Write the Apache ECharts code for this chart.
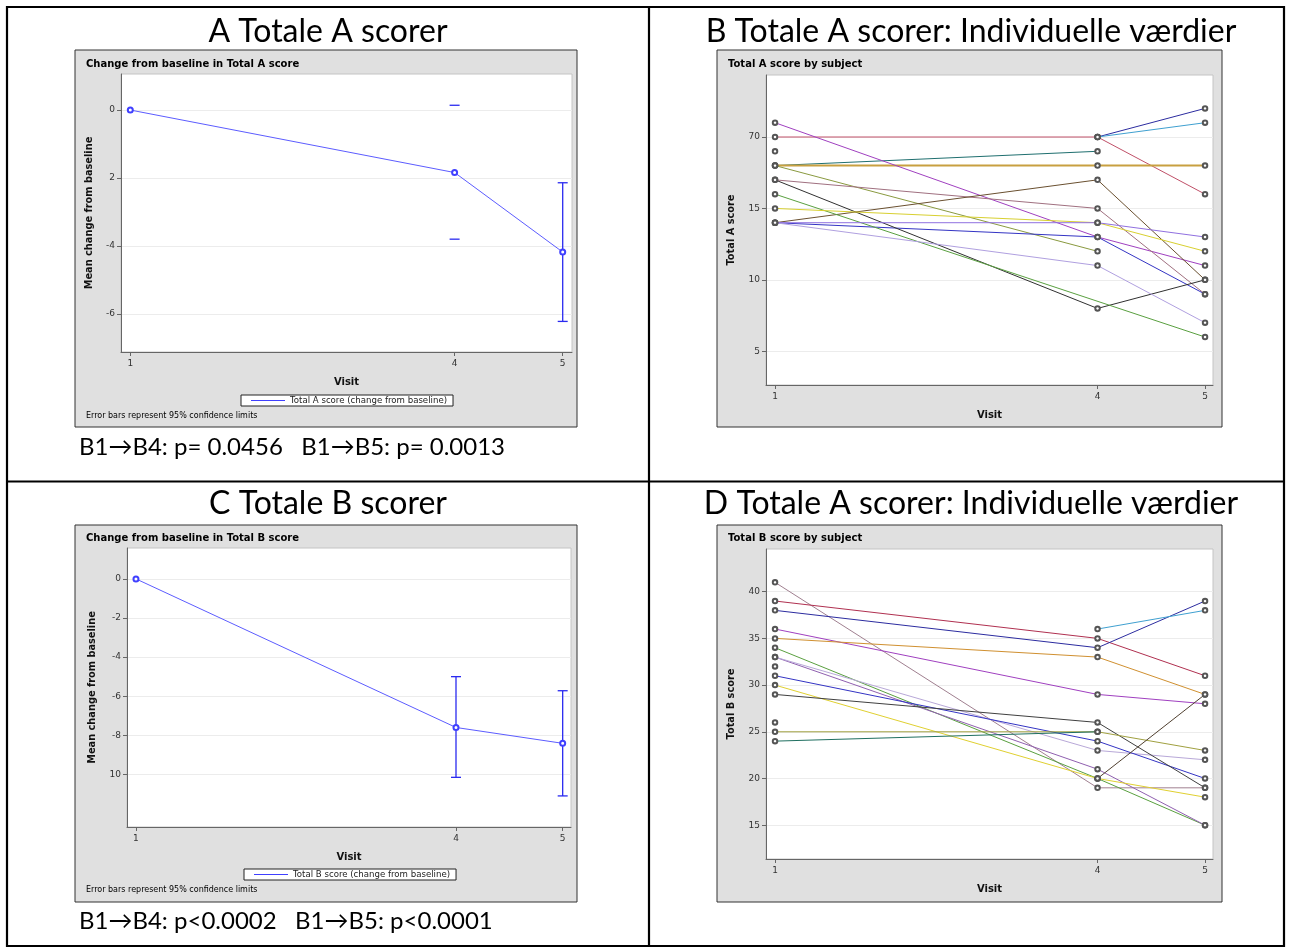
<!DOCTYPE html>
<html>
<head>
<meta charset="utf-8">
<script src="https://cdn.jsdelivr.net/npm/echarts@6/dist/echarts.min.js"></script>
<style>
  html, body { margin: 0; padding: 0; background: #fff; }
  #main { width: 1289px; height: 949px; }
</style>
</head>
<body>
<div id="main"></div>
<script>
// visits on the x axis (shared by all four plots)
const visits = [1, 4, 5]
const visitLabels = ['1', '4', '5']

// A: mean change from baseline, Total A score
const meanA = [0, -1.84, -4.18]
const upperA = [null, 0.14, -2.14]
const lowerA = [null, -3.8, -6.22]
const stemA = [false, false, true] // visit 4 only shows the caps
const yTicksA = [0, -2, -4, -6]
const yLabelsA = ['0', '2', '-4', '-6']

// C: mean change from baseline, Total B score
const meanC = [0, -7.6, -8.41]
const upperC = [null, -5.0, -5.72]
const lowerC = [null, -10.15, -11.1]
const stemC = [false, true, true]
const yTicksC = [0, -2, -4, -6, -8, -10]
const yLabelsC = ['0', '-2', '-4', '-6', '-8', '10']

// B: Total A score by subject (visit 1, 4, 5)
const subjectsB = [
  [20, 20, 16],
  [null, 20, 22],
  [null, 20, 21],
  [19, null, null],
  [18, 19, null],
  [18, 18, 18],
  [18, 12, null],
  [21, 13, 11],
  [14, 13, 9],
  [17, 15, 9],
  [17, 8, 10],
  [14, 17, 10],
  [16, null, 6],
  [15, 14, 12],
  [14, 14, 13],
  [14, 11, 7]
]
const colorsB = ['#c05068', '#2c2ca0', '#3fa0d0', '#999999', '#1f6f6f', '#c8a040', '#8a9a40', '#a040c0',
  '#3434c4', '#a07080', '#303030', '#6a5030', '#5aa040', '#d8d030', '#9070e0', '#b0a0e0']
const yTicksB = [5, 10, 15, 20]
const yLabelsB = ['5', '10', '15', '70']

// D: Total B score by subject (visit 1, 4, 5)
const subjectsD = [
  [41, 19, 19],
  [39, 35, 31],
  [38, 34, 39],
  [null, 36, 38],
  [36, 29, 28],
  [35, 33, 29],
  [34, 20, 15],
  [33, 21, 15],
  [33, 23, 22],
  [31, 24, 20],
  [30, 20, 18],
  [29, 26, 19],
  [25, 25, 23],
  [24, 25, null],
  [32, null, null],
  [26, null, null],
  [null, 20, 29]
]
const colorsD = ['#a08090', '#b03050', '#2c2ca0', '#3fa0d0', '#a040c0', '#d09030', '#5aa040', '#9060b0',
  '#b8a8d8', '#3434c4', '#e0d030', '#404040', '#a0a040', '#1f6f60', '#999999', '#999999', '#504030']
const yTicksD = [15, 20, 25, 30, 35, 40]
const yLabelsD = ['15', '20', '25', '30', '35', '40']

const chart = echarts.init(document.getElementById('main'))

const sasFont = 'DejaVu Sans'
const headFont = 'Lato'

const grids = [
  { left: 121, top: 74, width: 451, height: 278, xmin: 0.914, xmax: 5.086, ymin: -7.12, ymax: 1.06, ticks: yTicksA, labels: yLabelsA, yname: 'Mean change from baseline', gap: 27 },
  { left: 766, top: 75, width: 447, height: 310, xmin: 0.916, xmax: 5.074, ymin: 2.64, ymax: 24.34, ticks: yTicksB, labels: yLabelsB, yname: 'Total A score', gap: 30 },
  { left: 127, top: 548, width: 444, height: 279, xmin: 0.916, xmax: 5.078, ymin: -12.69, ymax: 1.58, ticks: yTicksC, labels: yLabelsC, yname: 'Mean change from baseline', gap: 30 },
  { left: 766, top: 549, width: 447, height: 310, xmin: 0.916, xmax: 5.074, ymin: 11.38, ymax: 44.57, ticks: yTicksD, labels: yLabelsD, yname: 'Total B score', gap: 30 }
]

const gridOpt = grids.map(g => ({
  left: g.left, top: g.top, width: g.width, height: g.height,
  show: true, backgroundColor: '#fff', borderColor: '#c4c4c4', borderWidth: 1
}))

const xAxes = grids.map((g, i) => ({
  type: 'value', gridIndex: i, min: g.xmin, max: g.xmax,
  axisLine: { show: true, onZero: false, lineStyle: { color: '#666', width: 1 } },
  axisTick: { show: true, customValues: visits, length: 4, lineStyle: { color: '#666' } },
  axisLabel: { customValues: visits, formatter: v => visitLabels[visits.indexOf(v)], fontFamily: sasFont, fontSize: 9, color: '#333', margin: 7 },
  splitLine: { show: false },
  name: 'Visit', nameLocation: 'middle', nameGap: 25,
  nameTextStyle: { fontFamily: sasFont, fontWeight: 'bold', fontSize: 10, color: '#111' }
}))

const yAxes = grids.map((g, i) => ({
  type: 'value', gridIndex: i, min: g.ymin, max: g.ymax,
  axisLine: { show: true, onZero: false, lineStyle: { color: '#666', width: 1 } },
  axisTick: { show: true, customValues: g.ticks, length: 4, lineStyle: { color: '#666' } },
  axisLabel: { customValues: g.ticks, formatter: v => g.labels[g.ticks.indexOf(v)], fontFamily: sasFont, fontSize: 9, color: '#333', margin: 6 },
  splitLine: { show: true, lineStyle: { color: '#ececec', width: 1 } },
  name: g.yname, nameLocation: 'middle', nameRotate: 90, nameGap: g.gap,
  nameTextStyle: { fontFamily: sasFont, fontWeight: 'bold', fontSize: 9.8, color: '#111' }
}))

function meanSeries(gi, name, mean) {
  return {
    type: 'line', name, xAxisIndex: gi, yAxisIndex: gi,
    data: visits.map((v, i) => [v, mean[i]]),
    symbol: 'emptyCircle', symbolSize: 5,
    lineStyle: { color: '#5c5cff', width: 1 },
    itemStyle: { color: '#4040ff', borderWidth: 1 },
    z: 4, animation: false
  }
}

function errorSeries(gi, upper, lower, stem) {
  const data = []
  visits.forEach((v, i) => {
    if (upper[i] != null) data.push([v, upper[i], lower[i], stem[i] ? 1 : 0])
  })
  return {
    type: 'custom', xAxisIndex: gi, yAxisIndex: gi, data,
    encode: { x: 0, y: [1, 2] },
    renderItem(params, api) {
      const x = api.value(0)
      const hi = api.coord([x, api.value(1)])
      const lo = api.coord([x, api.value(2)])
      const w = 5
      const style = { stroke: '#2a2af0', lineWidth: 1.3 }
      const children = [
        { type: 'line', shape: { x1: hi[0] - w, y1: hi[1], x2: hi[0] + w, y2: hi[1] }, style },
        { type: 'line', shape: { x1: lo[0] - w, y1: lo[1], x2: lo[0] + w, y2: lo[1] }, style }
      ]
      if (api.value(3)) children.push({ type: 'line', shape: { x1: hi[0], y1: hi[1], x2: lo[0], y2: lo[1] }, style })
      return { type: 'group', children }
    },
    z: 3, animation: false
  }
}

function subjectSeries(gi, subjects, colors) {
  return subjects.map((s, k) => ({
    type: 'line', xAxisIndex: gi, yAxisIndex: gi,
    data: visits.map((v, i) => [v, s[i]]),
    connectNulls: true,
    symbol: 'emptyCircle', symbolSize: 4.5,
    lineStyle: { color: colors[k], width: colors[k] === '#c8a040' ? 2 : 1 },
    itemStyle: { color: '#555', borderWidth: 0.7 },
    animation: false, z: 2
  }))
}

const series = [
  meanSeries(0, 'Total A score (change from baseline)', meanA),
  errorSeries(0, upperA, lowerA, stemA),
  ...subjectSeries(1, subjectsB, colorsB),
  meanSeries(2, 'Total B score (change from baseline)', meanC),
  errorSeries(2, upperC, lowerC, stemC),
  ...subjectSeries(3, subjectsD, colorsD)
]

const legendBase = {
  orient: 'horizontal', icon: 'rect', itemWidth: 34, itemHeight: 1, itemGap: 0,
  padding: [1, 6, 1, 10], borderColor: '#222', borderWidth: 1, backgroundColor: '#fff',
  textStyle: { fontFamily: sasFont, fontSize: 8.6, color: '#222', padding: [0, 0, 0, 0] },
  selectedMode: false
}
const legends = [
  Object.assign({}, legendBase, { left: 241, top: 395, data: ['Total A score (change from baseline)'] }),
  Object.assign({}, legendBase, { left: 244, top: 869, data: ['Total B score (change from baseline)'] })
]

// table frame, grey graph boxes and texts
const lineStyle = { stroke: '#000', lineWidth: 2.2 }
const graphic = [
  { type: 'rect', shape: { x: 75, y: 50, width: 502, height: 377 }, style: { fill: '#e0e0e0', stroke: '#333', lineWidth: 1 }, z: -10 },
  { type: 'rect', shape: { x: 717, y: 50, width: 505, height: 377 }, style: { fill: '#e0e0e0', stroke: '#333', lineWidth: 1 }, z: -10 },
  { type: 'rect', shape: { x: 75, y: 525, width: 502, height: 377 }, style: { fill: '#e0e0e0', stroke: '#333', lineWidth: 1 }, z: -10 },
  { type: 'rect', shape: { x: 717, y: 525, width: 505, height: 377 }, style: { fill: '#e0e0e0', stroke: '#333', lineWidth: 1 }, z: -10 },
  { type: 'line', shape: { x1: 7, y1: 7, x2: 1284, y2: 7 }, style: lineStyle },
  { type: 'line', shape: { x1: 7, y1: 481.5, x2: 1284, y2: 481.5 }, style: lineStyle },
  { type: 'line', shape: { x1: 7, y1: 946, x2: 1284, y2: 946 }, style: lineStyle },
  { type: 'line', shape: { x1: 7, y1: 6, x2: 7, y2: 947 }, style: lineStyle },
  { type: 'line', shape: { x1: 649, y1: 6, x2: 649, y2: 947 }, style: lineStyle },
  { type: 'line', shape: { x1: 1284, y1: 6, x2: 1284, y2: 947 }, style: lineStyle }
]

function txt(text, x, y, font, align) {
  return { type: 'text', x, y, style: { text, font, fill: '#000', align: align || 'left', verticalAlign: 'middle' }, z: 10 }
}
graphic.push(
  txt('A Totale A scorer', 328, 32, `32px ${headFont}`, 'center'),
  txt('B Totale A scorer: Individuelle værdier', 971, 32, `32px ${headFont}`, 'center'),
  txt('C Totale B scorer', 328, 504, `32px ${headFont}`, 'center'),
  txt('D Totale A scorer: Individuelle værdier', 971, 504, `32px ${headFont}`, 'center'),
  txt('B1→B4: p= 0.0456   B1→B5: p= 0.0013', 79, 447, `24px ${headFont}`),
  txt('B1→B4: p<0.0002   B1→B5: p<0.0001', 79, 921, `24px ${headFont}`),
  txt('Change from baseline in Total A score', 86, 64, `bold 10px ${sasFont}`),
  txt('Total A score by subject', 728, 64, `bold 10px ${sasFont}`),
  txt('Change from baseline in Total B score', 86, 538, `bold 10px ${sasFont}`),
  txt('Total B score by subject', 728, 538, `bold 10px ${sasFont}`),
  txt('Error bars represent 95% confidence limits', 86, 416, `8px ${sasFont}`),
  txt('Error bars represent 95% confidence limits', 86, 890, `8px ${sasFont}`)
)

chart.setOption({
  animation: false,
  grid: gridOpt,
  xAxis: xAxes,
  yAxis: yAxes,
  legend: legends,
  series,
  graphic
})
</script>
</body>
</html>
